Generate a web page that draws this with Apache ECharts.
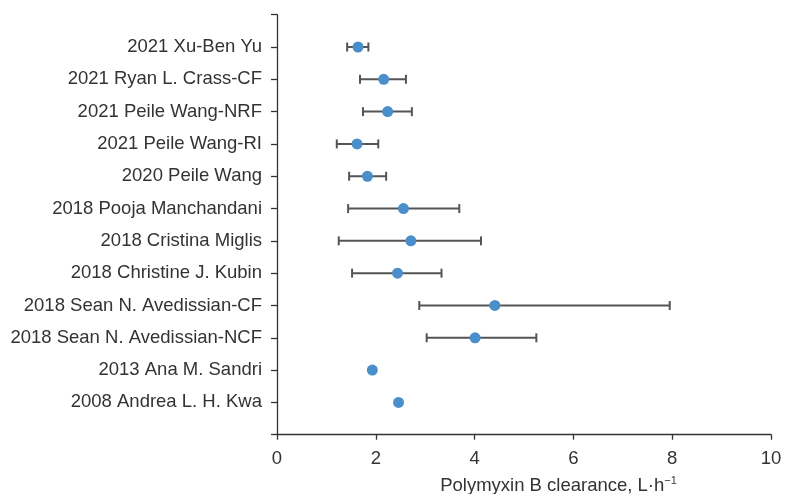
<!DOCTYPE html>
<html><head><meta charset="utf-8">
<script src="https://cdn.jsdelivr.net/npm/echarts@6/dist/echarts.min.js"></script>
<style>html,body{margin:0;padding:0;background:#fff}#c{width:793px;height:494px}</style>
</head><body><div id="c"></div>
<script>
// Studies listed top to bottom
const studies = [
  "2021 Xu-Ben Yu",
  "2021 Ryan L. Crass-CF",
  "2021 Peile Wang-NRF",
  "2021 Peile Wang-RI",
  "2020 Peile Wang",
  "2018 Pooja Manchandani",
  "2018 Cristina Miglis",
  "2018 Christine J. Kubin",
  "2018 Sean N. Avedissian-CF",
  "2018 Sean N. Avedissian-NCF",
  "2013 Ana M. Sandri",
  "2008 Andrea L. H. Kwa"
];
const clearance = [1.64, 2.16, 2.24, 1.62, 1.83, 2.56, 2.71, 2.44, 4.41, 4.01, 1.93, 2.46];
const lower     = [1.42, 1.68, 1.74, 1.21, 1.46, 1.44, 1.25, 1.52, 2.88, 3.03, null, null];
const upper     = [1.85, 2.61, 2.73, 2.05, 2.21, 3.69, 4.13, 3.33, 7.95, 5.25, null, null];
const xTicks = [0, 2, 4, 6, 8, 10];

const n = studies.length;
const pos = studies.map((s, i) => n - i);
const labelMap = {};
studies.forEach((s, i) => { labelMap[n - i] = s; });

const pointData = clearance.map((v, i) => [v, pos[i]]);
const errData = [];
lower.forEach((lo, i) => { if (lo != null) errData.push([lo, upper[i], pos[i]]); });

const chart = echarts.init(document.getElementById('c'));
const font = '"Liberation Sans", Arial, Helvetica, sans-serif';
chart.setOption({
  animation: false,
  grid: { left: 277, right: 22, top: 14.7, bottom: 59.3, outerBoundsMode: 'none', containLabel: false },
  xAxis: {
    type: 'value', min: xTicks[0], max: xTicks[xTicks.length - 1], interval: 2,
    splitLine: { show: false },
    axisLine: { onZero: false, lineStyle: { color: '#333', width: 1.3 } },
    axisTick: { length: 5, lineStyle: { color: '#333', width: 1.3 } },
    axisLabel: { color: '#333', fontSize: 18.5, fontFamily: font, margin: 15 },
    name: 'Polymyxin B clearance, L·h{sup|−1}',
    nameLocation: 'middle', nameGap: 41,
    nameTextStyle: {
      color: '#333', fontSize: 18.5, fontFamily: font, padding: [0, 0, 0, 69],
      rich: { sup: { fontSize: 11, fontFamily: font, color: '#333', verticalAlign: 'top', padding: [0, 0, 10, 0] } }
    }
  },
  yAxis: {
    type: 'value', min: 0, max: n + 1, interval: 1,
    splitLine: { show: false },
    axisLine: { show: true, lineStyle: { color: '#333', width: 1.3 } },
    axisTick: { show: true, length: 6, lineStyle: { color: '#333', width: 1.3 } },
    axisLabel: {
      color: '#333', fontSize: 18.5, fontFamily: font, margin: 15,
      formatter: v => labelMap[v] || ''
    }
  },
  series: [
    {
      type: 'custom',
      data: errData,
      z: 2,
      renderItem: function (params, api) {
        const y = api.value(2);
        const p1 = api.coord([api.value(0), y]);
        const p2 = api.coord([api.value(1), y]);
        const h = 4.5;
        const st = { stroke: '#555', lineWidth: 2 };
        return {
          type: 'group',
          children: [
            { type: 'line', shape: { x1: p1[0], y1: p1[1], x2: p2[0], y2: p2[1] }, style: st },
            { type: 'line', shape: { x1: p1[0], y1: p1[1] - h, x2: p1[0], y2: p1[1] + h }, style: st },
            { type: 'line', shape: { x1: p2[0], y1: p2[1] - h, x2: p2[0], y2: p2[1] + h }, style: st }
          ]
        };
      }
    },
    {
      type: 'scatter',
      data: pointData,
      symbolSize: 11,
      z: 3,
      itemStyle: { color: '#4a8fca', opacity: 1 }
    }
  ]
});
</script>
</body></html>
